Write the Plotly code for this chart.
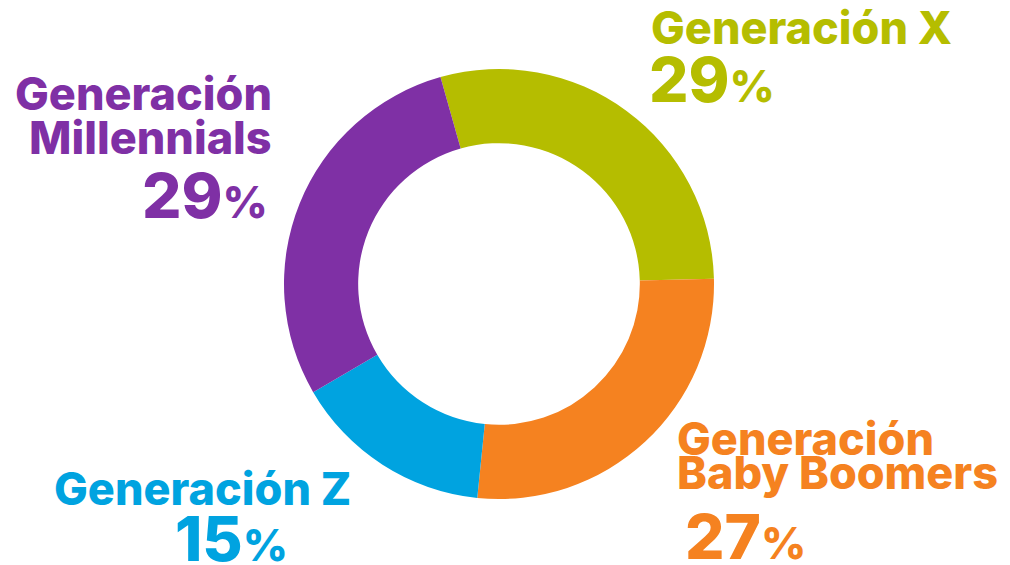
import plotly.graph_objects as go

labels = ["Generación X", "Generación Baby Boomers", "Generación Z", "Generación Millennials"]
values = [29, 27, 15, 29]
colors = ["#b5bd00", "#f58220", "#00a3e0", "#7f30a5"]

W, H = 1010, 565
cx, cy, R = 499, 284, 215

fig = go.Figure(go.Pie(
    labels=labels, values=values, sort=False, direction="clockwise",
    rotation=-15.8, hole=0.655, textinfo="none", hoverinfo="label+percent",
    marker=dict(colors=colors, line=dict(width=0)),
    domain=dict(x=[(cx - R) / W, (cx + R) / W], y=[1 - (cy + R) / H, 1 - (cy - R) / H]),
    showlegend=False,
))

FONT = "Inter"
LBL = 45
NUM = 62
PCT = 44

def ann(text, x, y, color, size, xanchor):
    fig.add_annotation(text=text, x=x / W, y=1 - y / H, xref="paper", yref="paper",
                       xanchor=xanchor, yanchor="middle", showarrow=False, borderpad=0,
                       font=dict(family=FONT, size=size, color=color, weight=800))

def pct(v):
    return f"{v}<span style='font-size:{PCT}px'>%</span>"

# Generación X
ann("Generación X", 650, 28, colors[0], LBL, "left")
ann(pct(values[0]), 648, 79, colors[0], NUM, "left")
# Millennials
ann("Generación", 273, 93, colors[3], LBL, "right")
ann("Millennials", 273, 137, colors[3], LBL, "right")
ann(pct(values[3]), 269, 195, colors[3], NUM, "right")
# Baby Boomers
ann("Generación", 676, 438, colors[1], LBL, "left")
ann("Baby Boomers", 676, 472, colors[1], LBL, "left")
ann(pct(values[1]), 684, 536, colors[1], NUM, "left")
# Z
ann("Generación Z", 202, 488, colors[2], LBL, "center")
ann(pct(values[2]), 231, 538, colors[2], NUM, "center")

fig.update_layout(width=W, height=H, margin=dict(l=0, r=0, t=0, b=0),
                  paper_bgcolor="white", plot_bgcolor="white")
fig.write_html("out.html", config={"displayModeBar": False},
               post_script="document.body.style.margin='0';document.body.style.padding='0';")
